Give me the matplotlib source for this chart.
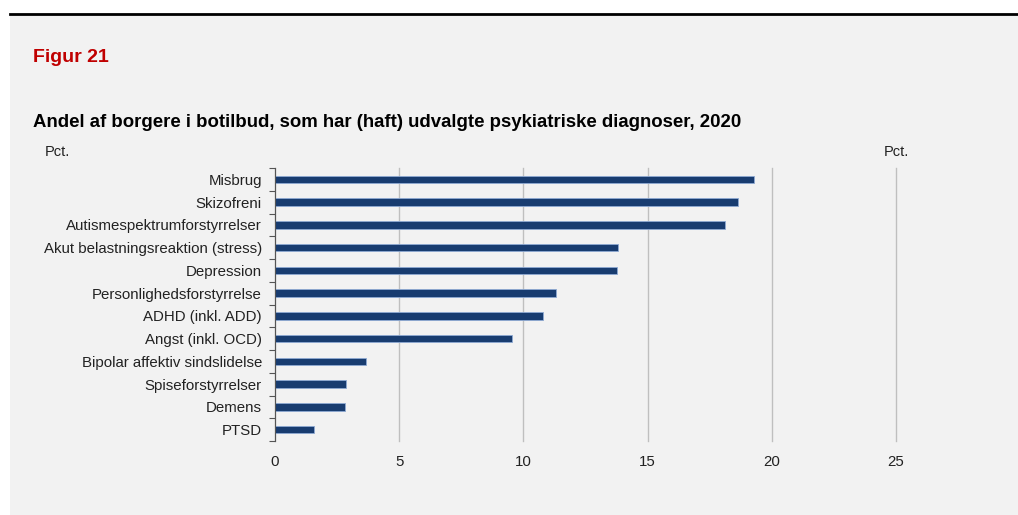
import matplotlib
matplotlib.use("Agg")
import matplotlib.pyplot as plt
from matplotlib.patches import Rectangle
from matplotlib.lines import Line2D
import numpy as np

plt.rcParams["font.family"] = ["Liberation Sans", "DejaVu Sans"]

# ── Data ─────────────────────────────────────────────────────────────────────
CATEGORIES = [
    "Misbrug",
    "Skizofreni",
    "Autismespektrumforstyrrelser",
    "Akut belastningsreaktion (stress)",
    "Depression",
    "Personlighedsforstyrrelse",
    "ADHD (inkl. ADD)",
    "Angst (inkl. OCD)",
    "Bipolar affektiv sindslidelse",
    "Spiseforstyrrelser",
    "Demens",
    "PTSD",
]
VALUES = [19.3, 18.65, 18.1, 13.8, 13.75, 11.3, 10.8, 9.55, 3.65, 2.85, 2.8, 1.55]
X_TICKS = [0, 5, 10, 15, 20, 25]

TITLE = "Andel af borgere i botilbud, som har (haft) udvalgte psykiatriske diagnoser, 2020"
FIG_LABEL = "Figur 21"

W, H = 1018, 515
BG = "#f2f2f2"
BAR = "#183c70"

fig = plt.figure(figsize=(W / 100, H / 100), dpi=100, facecolor="white")

# grey panel + black top rule
fig.patches.append(Rectangle((10 / W, 0), 1 - 10 / W, 1 - 15 / H,
                             transform=fig.transFigure, facecolor=BG,
                             edgecolor="none", zorder=-10))
fig.lines.append(Line2D([10 / W, 1], [1 - 14 / H, 1 - 14 / H],
                        transform=fig.transFigure, color="black", lw=2))

fig.text(33 / W, 1 - 57 / H, FIG_LABEL, color="#c00000", fontsize=14,
         fontweight="bold", va="center", ha="left")
fig.text(33 / W, 1 - 123 / H, TITLE, color="black", fontsize=13.4,
         fontweight="bold", va="center", ha="left")
fig.text(57 / W, 1 - 152 / H, "Pct.", fontsize=10.5, va="center", ha="center",
         color="#222222")
fig.text(896 / W, 1 - 152 / H, "Pct.", fontsize=10.5, va="center", ha="center",
         color="#222222")

ax = fig.add_axes([275 / W, 1 - 441 / H, (896 - 275) / W, (441 - 168) / H])
ax.set_facecolor(BG)

y = np.arange(len(CATEGORIES))
ax.barh(y, VALUES, height=0.33, color=BAR, edgecolor="#8eaad3",
        linewidth=0.6, zorder=3)

ax.set_ylim(len(CATEGORIES) - 0.5, -0.5)
ax.set_xlim(0, 25)

ax.set_yticks(y)
ax.set_yticklabels(CATEGORIES, fontsize=10.8, color="#222222")
ax.tick_params(axis="y", which="major", length=0, pad=9.4)
ax.set_yticks(np.arange(-0.5, len(CATEGORIES)), minor=True)
ax.tick_params(axis="y", which="minor", length=4, width=0.8, color="#555555")

ax.set_xticks(X_TICKS)
ax.set_xticklabels([str(t) for t in X_TICKS], fontsize=10.8, color="#222222")
ax.tick_params(axis="x", length=0, pad=10)

ax.grid(axis="x", color="#bfbfbf", linewidth=1, zorder=0)
for gl in ax.get_xgridlines():
    gl.set_clip_on(False)
for s in ["top", "right", "bottom"]:
    ax.spines[s].set_visible(False)
ax.spines["left"].set_color("#555555")
ax.spines["left"].set_linewidth(0.8)
ax.spines["left"].set_zorder(4)

plt.savefig("out.png", dpi=100, facecolor="white")
